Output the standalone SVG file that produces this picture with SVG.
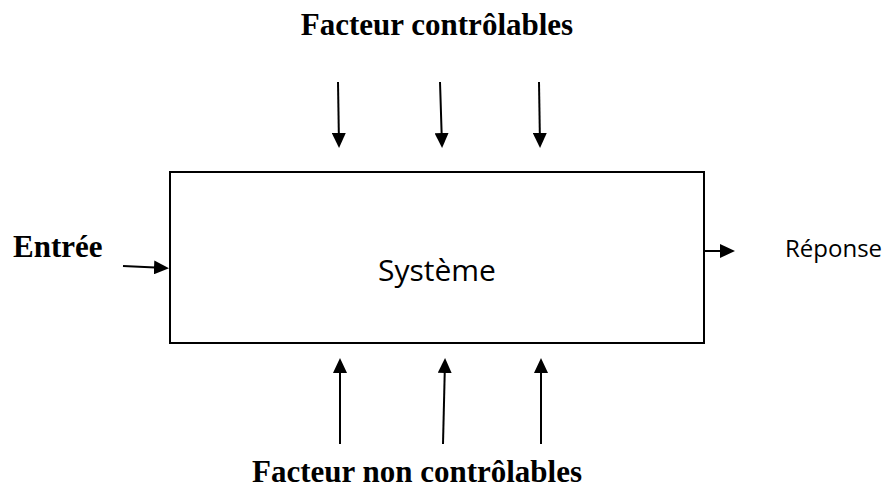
<svg xmlns="http://www.w3.org/2000/svg" width="888" height="489" viewBox="0 0 888 489">
<style>
.lbl{font-family:"Liberation Serif","Times New Roman",serif;font-weight:bold;font-size:31px;fill:#000}
.sans{font-family:"Open Sans","Noto Sans","Liberation Sans",sans-serif;fill:#000}
.box{fill:#fff;stroke:#000;stroke-width:2}
.arr{stroke:#000;stroke-width:2;fill:none;marker-end:url(#ah)}
</style>
<defs>
<marker id="ah" markerUnits="userSpaceOnUse" markerWidth="15" markerHeight="14" viewBox="0 0 15 14" refX="12" refY="7" orient="auto">
<path d="M0,0 L15,7 L0,14 Z" fill="#000"/>
</marker>
</defs>
<rect width="888" height="489" fill="#fff"/>
<g id="systeme">
<rect class="box" x="170" y="172" width="534" height="171"/>
<text class="sans" x="437" y="281" font-size="30" text-anchor="middle">Système</text>
</g>
<g id="facteur-controlables">
<text class="lbl" x="437" y="35" text-anchor="middle">Facteur contrôlables</text>
</g>
<g id="facteur-non-controlables">
<text class="lbl" x="417" y="482" text-anchor="middle">Facteur non contrôlables</text>
</g>
<g id="entree">
<text class="lbl" x="13" y="257">Entrée</text>
</g>
<g id="reponse">
<text class="sans" x="785" y="257" font-size="24">Réponse</text>
</g>
<g id="connectors">
<line class="arr" x1="338" y1="82" x2="339" y2="145"/>
<line class="arr" x1="440" y1="82" x2="442" y2="145"/>
<line class="arr" x1="539" y1="82" x2="540" y2="145"/>
<line class="arr" x1="340" y1="444" x2="340" y2="361"/>
<line class="arr" x1="443" y1="444" x2="445" y2="361"/>
<line class="arr" x1="541" y1="444" x2="541" y2="361"/>
<line class="arr" x1="123" y1="266" x2="166" y2="268"/>
<line class="arr" x1="704" y1="251" x2="732" y2="251"/>
</g>
</svg>
